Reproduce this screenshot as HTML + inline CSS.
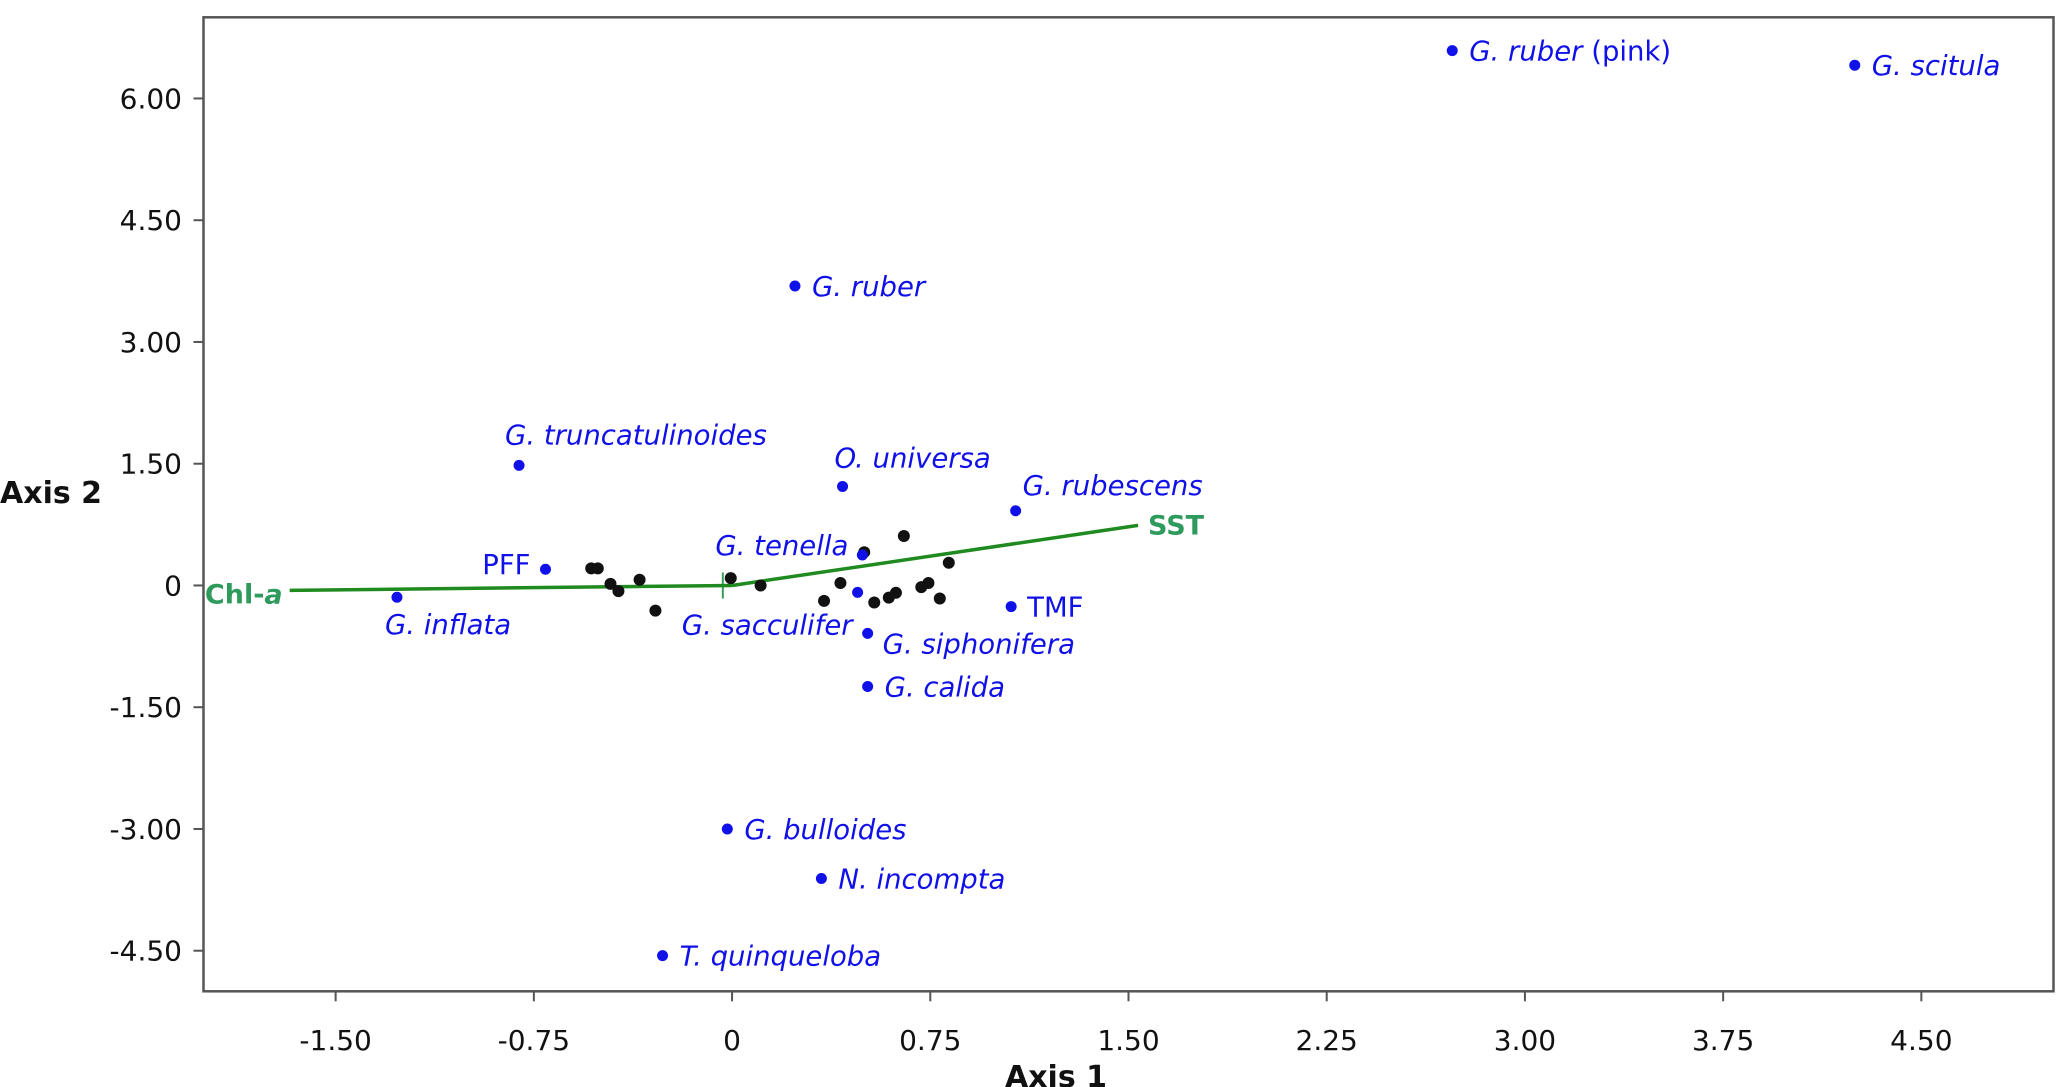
<!DOCTYPE html>
<html><head><meta charset="utf-8"><style>
html,body{margin:0;padding:0;background:#fff;}
svg{display:block;font-family:"DejaVu Sans","Liberation Sans",sans-serif;}
</style></head><body>
<svg id="chart" width="2072" height="1087" viewBox="0 0 2072 1087"></svg>
<script>
const xTicks = [-1.5, -0.75, 0, 0.75, 1.5, 2.25, 3.0, 3.75, 4.5];
const xTickLabels = ["-1.50","-0.75","0","0.75","1.50","2.25","3.00","3.75","4.50"];
const yTicks = [6, 4.5, 3, 1.5, 0, -1.5, -3, -4.5];
const yTickLabels = ["6.00","4.50","3.00","1.50","0","-1.50","-3.00","-4.50"];
const speciesNames = ["G. ruber","G. truncatulinoides","O. universa","G. rubescens","PFF","G. inflata","G. tenella","G. sacculifer","TMF","G. siphonifera","G. calida","G. bulloides","N. incompta","T. quinqueloba","G. ruber (pink)","G. scitula"];
const speciesX = [0.238,-0.806,0.418,1.073,-0.706,-1.268,0.493,0.475,1.056,0.513,0.513,-0.018,0.338,-0.263,2.725,4.248];
const speciesY = [3.69,1.48,1.22,0.92,0.20,-0.145,0.375,-0.085,-0.26,-0.59,-1.245,-3.0,-3.61,-4.56,6.59,6.41];
const sampleX = [-0.533,-0.508,-0.46,-0.43,-0.35,-0.29,-0.005,0.108,0.348,0.41,0.50,0.538,0.593,0.62,0.65,0.716,0.743,0.786,0.82];
const sampleY = [0.21,0.21,0.02,-0.07,0.07,-0.31,0.09,0,-0.19,0.03,0.41,-0.21,-0.15,-0.09,0.61,-0.02,0.03,-0.16,0.28];
const vectorNames = ["Chl-a","SST"];
const vectorX = [-1.674, 1.536];
const vectorY = [-0.06, 0.74];

const L=203.5,R=2053.5,T=17.3,B=991.3, X0=-2,X1=5,Y0=-5,Y1=7;
const sx=v=>L+(v-X0)/(X1-X0)*(R-L);
const sy=v=>B-(v-Y0)/(Y1-Y0)*(B-T);
const NS="http://www.w3.org/2000/svg";
const svg=document.getElementById('chart');
function mk(tag,attrs,parent){const e=document.createElementNS(NS,tag);for(const k in attrs)e.setAttribute(k,attrs[k]);(parent||svg).appendChild(e);return e;}

let fr=mk('rect',{x:L,y:T,width:R-L,height:B-T,fill:'none',stroke:'#555',"stroke-width":2.5});



xTicks.forEach((v,i)=>{
  let t=mk('line',{x1:sx(v),x2:sx(v),y1:B,y2:B+10,stroke:'#555',"stroke-width":2});
  
  
  let tx=mk('text',{x:sx(v),y:1050,"text-anchor":"middle","font-size":28,fill:'#111'});
  tx.textContent=xTickLabels[i];
  
  
});
yTicks.forEach((v,i)=>{
  let t=mk('line',{x1:L-10,x2:L,y1:sy(v),y2:sy(v),stroke:'#555',"stroke-width":2});
  
  
  let tx=mk('text',{x:182,y:sy(v)+10,"text-anchor":"end","font-size":28,fill:'#111'});
  tx.textContent=yTickLabels[i];
  
  
});
let xt=mk('text',{x:1056,y:1087,"text-anchor":"middle","font-size":30,"font-weight":"bold",fill:'#111'});
xt.textContent='Axis 1';


let yt=mk('text',{x:0,y:503,"text-anchor":"start","font-size":30,"font-weight":"bold",fill:'#111'});
yt.textContent='Axis 2';



const ox=sx(0), oy=sy(0);
let cross=mk('line',{x1:sx(-0.035),x2:sx(-0.035),y1:oy-13,y2:oy+13,stroke:'#3a9a5a',"stroke-width":2});


vectorNames.forEach((n,i)=>{
  let ln=mk('line',{x1:ox,y1:oy,x2:sx(vectorX[i]),y2:sy(vectorY[i]),stroke:'#1f8a1f',"stroke-width":3.5});
  
  
  let tx=mk('text',{x:sx(vectorX[i])+(i===0?-7:10),y:sy(vectorY[i])+(i===0?13:9),"text-anchor":i===0?'end':'start',"font-size":27,"font-weight":"bold",fill:'#2e9a5c'});
  if(i===0){tx.textContent='Chl-';let s=mk('tspan',{"font-style":"italic"},tx);s.textContent='a';}
  else tx.textContent=n;
  
  
});

sampleX.forEach((v,i)=>{
  let c=mk('circle',{cx:sx(v),cy:sy(sampleY[i]),r:6,fill:'#111'});
  
  
});

const off={"G. truncatulinoides":[-14,-31,'start'],"O. universa":[-8,-29,'start'],"G. rubescens":[7,-26,'start'],"PFF":[-15,-5,'end'],"G. inflata":[-12,27,'start'],"G. tenella":[-14,-10,'end'],"G. sacculifer":[-5,32,'end'],"TMF":[16,0,'start'],"G. siphonifera":[15,10,'start']};
speciesNames.forEach((n,i)=>{
  const px=sx(speciesX[i]), py=sy(speciesY[i]);
  let c=mk('circle',{cx:px,cy:py,r:5.5,fill:'#1010e8'});
  
  
  const o=off[n]||[17,0,'start'];
  let tx=mk('text',{x:px+o[0],y:py+o[1]+10,"text-anchor":o[2],"font-size":27.5,fill:'#1010e8'});
  if(n==='PFF'||n==='TMF'){tx.textContent=n;}
  else if(n==='G. ruber (pink)'){let s=mk('tspan',{"font-style":"italic"},tx);s.textContent='G. ruber';let s2=mk('tspan',{},tx);s2.textContent=' (pink)';}
  else {tx.setAttribute('font-style','italic');tx.textContent=n;}
  
  
});
</script>
</body></html>
